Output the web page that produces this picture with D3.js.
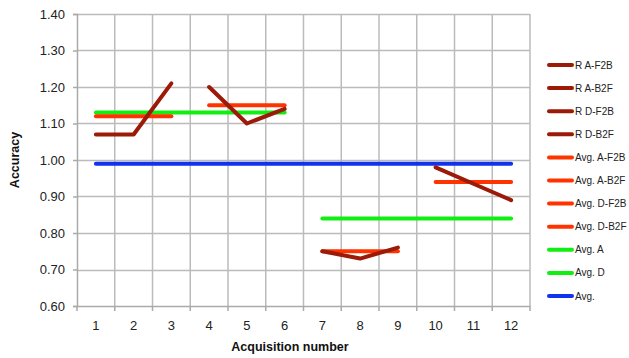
<!DOCTYPE html>
<html><head><meta charset="utf-8">
<script src="https://cdn.jsdelivr.net/npm/d3@7"></script>
<style>body{margin:0;background:#fff;}svg{display:block;font-family:"Liberation Sans","Open Sans",sans-serif;}</style>
</head><body><svg id="c" width="629" height="358"></svg>
<script>
const categories = [1,2,3,4,5,6,7,8,9,10,11,12];
const yTicks = [0.6,0.7,0.8,0.9,1.0,1.1,1.2,1.3,1.4];
const seriesNames = ["R A-F2B","R A-B2F","R D-F2B","R D-B2F","Avg. A-F2B","Avg. A-B2F","Avg. D-F2B","Avg. D-B2F","Avg. A","Avg. D","Avg."];
const seriesColors = ["#9b1a08","#9b1a08","#9b1a08","#9b1a08","#ff3300","#ff3300","#ff3300","#ff3300","#11ee11","#11ee11","#1133ee"];
const rAF2B = [1.07,1.07,1.21,null,null,null,null,null,null,null,null,null];
const rAB2F = [null,null,null,1.20,1.10,1.14,null,null,null,null,null,null];
const rDF2B = [null,null,null,null,null,null,0.75,0.73,0.76,null,null,null];
const rDB2F = [null,null,null,null,null,null,null,null,null,0.98,0.935,0.89];
const avgAF2B = [1.12,1.12,1.12,null,null,null,null,null,null,null,null,null];
const avgAB2F = [null,null,null,1.15,1.15,1.15,null,null,null,null,null,null];
const avgDF2B = [null,null,null,null,null,null,0.75,0.75,0.75,null,null,null];
const avgDB2F = [null,null,null,null,null,null,null,null,null,0.94,0.94,0.94];
const avgA = [1.13,1.13,1.13,1.13,1.13,1.13,null,null,null,null,null,null];
const avgD = [null,null,null,null,null,null,0.84,0.84,0.84,0.84,0.84,0.84];
const avgAll = [0.99,0.99,0.99,0.99,0.99,0.99,0.99,0.99,0.99,0.99,0.99,0.99];
const seriesValues = [rAF2B,rAB2F,rDF2B,rDB2F,avgAF2B,avgAB2F,avgDF2B,avgDB2F,avgA,avgD,avgAll];

const svg = d3.select("#c");
const L=77, R=530, T=14, B=306;
const x = d3.scaleBand().domain(categories).range([L,R]);
const y = d3.scaleLinear().domain([0.6,1.4]).range([B,T]);

// grid
const bounds = categories.map(c=>x(c)).concat([R]);
svg.append("g").selectAll("line").data(bounds.slice(1,-1)).join("line")
  .attr("x1",d=>d).attr("x2",d=>d).attr("y1",T).attr("y2",B)
  .attr("stroke","#bbbbbb").attr("stroke-width",1.5);
svg.append("g").selectAll("line").data(yTicks.slice(1)).join("line")
  .attr("x1",L).attr("x2",R).attr("y1",d=>Math.round(y(d))+0.5).attr("y2",d=>Math.round(y(d))+0.5)
  .attr("stroke","#bbbbbb").attr("stroke-width",1.5);
svg.append("line").attr("x1",R).attr("x2",R).attr("y1",T).attr("y2",B).attr("stroke","#bbbbbb").attr("stroke-width",1.5);

// y axis
const yAxis = svg.append("g").attr("transform",`translate(${L},0)`)
  .call(d3.axisLeft(y).tickValues(yTicks).tickFormat(d3.format(".2f")).tickSize(4).tickPadding(8));
yAxis.select(".domain").attr("stroke","#aaaaaa").attr("stroke-width",1.5);
yAxis.selectAll(".tick line").attr("stroke","#aaaaaa").attr("stroke-width",1.5);
yAxis.selectAll("text").attr("font-size",13).attr("fill","#222");

// x axis
const xAxis = svg.append("g").attr("transform",`translate(0,${B})`)
  .call(d3.axisBottom(x).tickSize(0).tickPadding(15));
xAxis.select(".domain").attr("stroke","#aaaaaa").attr("stroke-width",1.5);
xAxis.selectAll("text").attr("font-size",13).attr("fill","#222");
svg.append("g").selectAll("line").data(bounds).join("line")
  .attr("x1",d=>d).attr("x2",d=>d).attr("y1",B).attr("y2",B+5)
  .attr("stroke","#aaaaaa").attr("stroke-width",1.5);

// titles
svg.append("text").attr("transform","translate(19,160) rotate(-90)").attr("text-anchor","middle")
  .attr("font-size",12.5).attr("font-weight","bold").attr("fill","#111").text("Accuracy");
svg.append("text").attr("x",290).attr("y",351).attr("text-anchor","middle")
  .attr("font-size",12.5).attr("font-weight","bold").attr("fill","#111").text("Acquisition number");

// lines
const line = d3.line().defined(d=>d.v!=null).x(d=>x(d.c)+x.bandwidth()/2).y(d=>y(d.v));
const order = [10,9,8,7,6,5,4,3,2,1,0];
order.forEach(i=>{
  const data = categories.map((c,j)=>({c,v:seriesValues[i][j]}));
  svg.append("path").datum(data).attr("d",line).attr("fill","none")
    .attr("stroke",seriesColors[i]).attr("stroke-width",4).attr("stroke-linecap","round").attr("stroke-linejoin","round");
});

// legend
const lg = svg.append("g");
seriesNames.forEach((n,i)=>{
  const yy = 65 + i*23.1;
  lg.append("line").attr("x1",549).attr("x2",572).attr("y1",yy).attr("y2",yy)
    .attr("stroke",seriesColors[i]).attr("stroke-width",4).attr("stroke-linecap","round");
  lg.append("text").attr("x",575).attr("y",yy+3.5).attr("font-size",10)
    .attr("fill","#222").text(n);
});
</script></body></html>
